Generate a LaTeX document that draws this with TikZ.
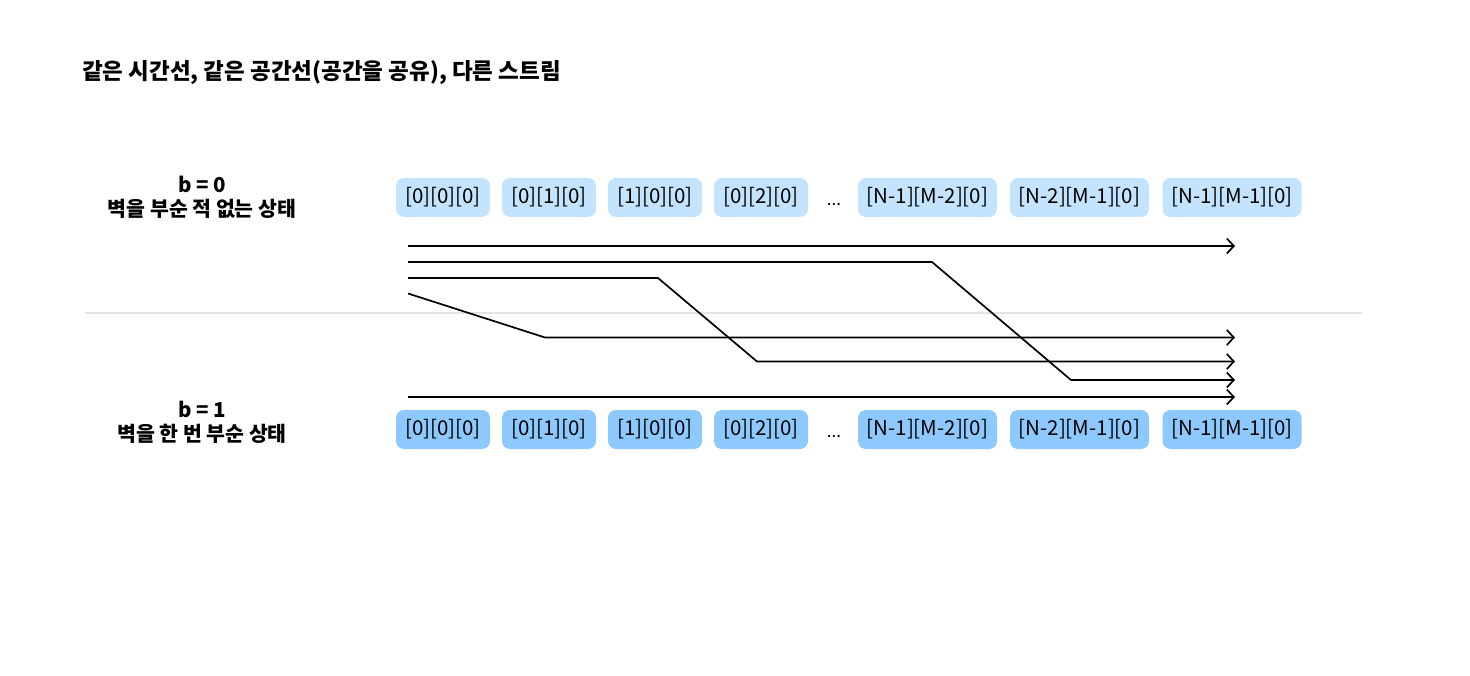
\documentclass[tikz,border=0pt]{standalone}
\usepackage{fontspec}
\setmainfont{Noto Sans CJK KR}
\usetikzlibrary{arrows.meta}
\definecolor{topc}{HTML}{C4E3FE}
\definecolor{botc}{HTML}{8DC9FE}
\definecolor{sepc}{HTML}{E4E4E4}
\begin{document}
\begin{tikzpicture}[x=1pt,y=-1pt,
  cell/.style={rounded corners=8pt, minimum height=39pt, inner sep=0pt, font=\fontsize{20.5}{24}\selectfont},
  topcell/.style={cell, fill=topc},
  botcell/.style={cell, fill=botc},
  narrow/.style={minimum width=94pt},
  wide/.style={minimum width=139pt},
  dotsn/.style={font=\fontsize{17}{20}\selectfont},
  flow/.style={line width=1.7pt, -{Straight Barb[length=7pt,width=15pt,line width=1.7pt]}},
  lbl/.style={align=center, font=\fontsize{20.5}{24}\selectfont\bfseries},
  ttl/.style={anchor=west, font=\fontsize{22.5}{26}\selectfont\bfseries}]
\useasboundingbox (0,0) rectangle (1470,676);
\node[ttl, inner xsep=0pt] (title) at (82,73) {같은 시간선, 같은 공간선(공간을 공유), 다른 스트림};
\node[lbl] (l0) at (202,197) {b = 0\\벽을 부순 적 없는 상태};
\node[lbl] (l1) at (202,422) {b = 1\\벽을 한 번 부순 상태};
% top row
\node[topcell,narrow] (t1) at (443,197.5) {[0][0][0]};
\node[topcell,narrow] (t2) at (549,197.5) {[0][1][0]};
\node[topcell,narrow] (t3) at (655,197.5) {[1][0][0]};
\node[topcell,narrow] (t4) at (761,197.5) {[0][2][0]};
\node[dotsn] (td) at (834,205) {...};
\node[topcell,wide] (t5) at (927.5,197.5) {[N-1][M-2][0]};
\node[topcell,wide] (t6) at (1079.5,197.5) {[N-2][M-1][0]};
\node[topcell,wide] (t7) at (1232,197.5) {[N-1][M-1][0]};
% bottom row
\node[botcell,narrow] (b1) at (443,429.5) {[0][0][0]};
\node[botcell,narrow] (b2) at (549,429.5) {[0][1][0]};
\node[botcell,narrow] (b3) at (655,429.5) {[1][0][0]};
\node[botcell,narrow] (b4) at (761,429.5) {[0][2][0]};
\node[dotsn] (bd) at (834,437) {...};
\node[botcell,wide] (b5) at (927.5,429.5) {[N-1][M-2][0]};
\node[botcell,wide] (b6) at (1079.5,429.5) {[N-2][M-1][0]};
\node[botcell,wide] (b7) at (1232,429.5) {[N-1][M-1][0]};
% separator
\coordinate (sL) at (85,313);
\coordinate (sR) at (1362,313);
\draw[sepc, line width=1.5pt] (sL) -- (sR);
% flows
\coordinate (a1) at (408,246);  \coordinate (e1) at (1235,246);
\coordinate (a2) at (408,262);  \coordinate (k2a) at (932,262); \coordinate (k2b) at (1071,380); \coordinate (e2) at (1235,380);
\coordinate (a3) at (408,278);  \coordinate (k3a) at (658,278); \coordinate (k3b) at (757,361.5); \coordinate (e3) at (1235,361.5);
\coordinate (a4) at (408,293.5); \coordinate (k4) at (545,337.5); \coordinate (e4) at (1235,337.5);
\coordinate (a5) at (408,397);  \coordinate (e5) at (1235,397);
\draw[flow] (a1) -- (e1);
\draw[flow] (a2) -- (k2a) -- (k2b) -- (e2);
\draw[flow] (a3) -- (k3a) -- (k3b) -- (e3);
\draw[flow] (a4) -- (k4) -- (e4);
\draw[flow] (a5) -- (e5);
\end{tikzpicture}
\end{document}
